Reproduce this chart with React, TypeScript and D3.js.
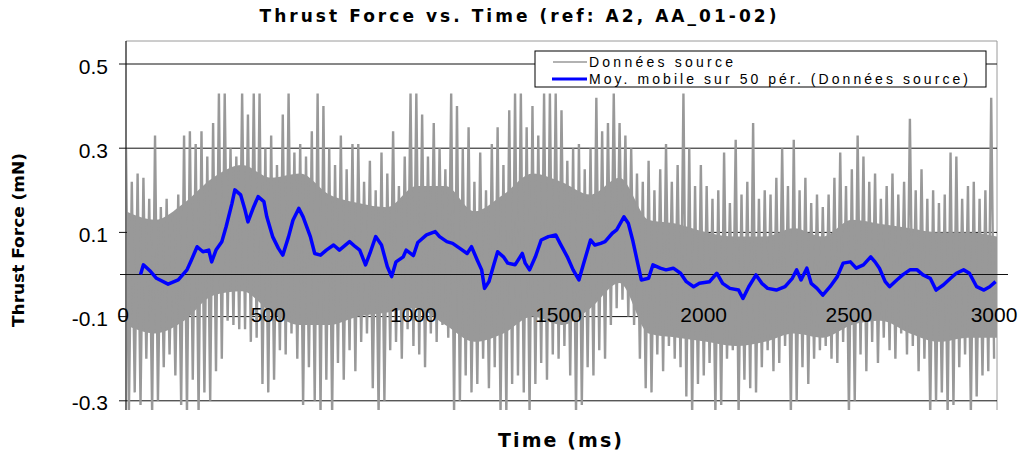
import React from 'react';
import * as d3 from 'd3';

const W = 1028;
const H = 452;

const yTicks = [0.5, 0.3, 0.1, -0.1, -0.3];
const yTickLabels = ['0.5', '0.3', '0.1', '-0.1', '-0.3'];
const xTicks = [0, 500, 1000, 1500, 2000, 2500, 3000];
const xTickLabels = ['0', '500', '1000', '1500', '2000', '2500', '3000'];

// raw source data: local maxima every 20 ms (t = 0, 20, ...) and minima in between (t = 10, 30, ...)
const rawHigh = [
  0.30, 0.22, 0.24, 0.23, 0.18, 0.33, 0.16, 0.18, 0.14, 0.19,
  0.33, 0.34, 0.31, 0.34, 0.28, 0.36, 0.43, 0.43, 0.30, 0.28,
  0.43, 0.38, 0.43, 0.43, 0.30, 0.33, 0.26, 0.38, 0.43, 0.29,
  0.31, 0.28, 0.34, 0.43, 0.40, 0.30, 0.26, 0.33, 0.25, 0.31,
  0.31, 0.22, 0.27, 0.20, 0.29, 0.24, 0.34, 0.21, 0.28, 0.43,
  0.43, 0.38, 0.28, 0.36, 0.30, 0.25, 0.43, 0.40, 0.30, 0.35,
  0.22, 0.29, 0.20, 0.31, 0.35, 0.26, 0.39, 0.43, 0.43, 0.35,
  0.40, 0.33, 0.43, 0.43, 0.43, 0.39, 0.27, 0.30, 0.31, 0.25,
  0.30, 0.42, 0.34, 0.36, 0.43, 0.36, 0.33, 0.30, 0.24, 0.22,
  0.27, 0.20, 0.25, 0.31, 0.22, 0.26, 0.43, 0.30, 0.21, 0.26,
  0.21, 0.18, 0.20, 0.29, 0.17, 0.32, 0.19, 0.22, 0.36, 0.18,
  0.20, 0.19, 0.23, 0.30, 0.21, 0.32, 0.20, 0.23, 0.17, 0.19,
  0.16, 0.19, 0.23, 0.29, 0.21, 0.25, 0.33, 0.28, 0.22, 0.24,
  0.18, 0.21, 0.24, 0.19, 0.22, 0.37, 0.20, 0.25, 0.18, 0.20,
  0.17, 0.19, 0.29, 0.28, 0.18, 0.21, 0.22, 0.18, 0.20, 0.42,
];
const rawLow = [
  -0.33, -0.28, -0.31, -0.20, -0.33, -0.30, -0.22, -0.19, -0.24, -0.31,
  -0.33, -0.25, -0.33, -0.28, -0.30, -0.23, -0.20, -0.11, -0.12, -0.13,
  -0.13, -0.16, -0.15, -0.26, -0.28, -0.25, -0.18, -0.19, -0.14, -0.20,
  -0.31, -0.22, -0.30, -0.33, -0.25, -0.33, -0.21, -0.25, -0.18, -0.23,
  -0.16, -0.14, -0.27, -0.33, -0.30, -0.18, -0.16, -0.20, -0.13, -0.17,
  -0.19, -0.22, -0.14, -0.16, -0.12, -0.15, -0.33, -0.30, -0.24, -0.28,
  -0.26, -0.20, -0.27, -0.22, -0.33, -0.33, -0.26, -0.24, -0.28, -0.33,
  -0.26, -0.21, -0.25, -0.19, -0.20, -0.17, -0.24, -0.33, -0.31, -0.22,
  -0.24, -0.18, -0.20, -0.12, -0.08, -0.06, -0.10, -0.12, -0.20, -0.27,
  -0.28, -0.19, -0.23, -0.17, -0.20, -0.22, -0.29, -0.33, -0.26, -0.24,
  -0.21, -0.33, -0.31, -0.20, -0.18, -0.33, -0.25, -0.27, -0.28, -0.22,
  -0.18, -0.23, -0.21, -0.17, -0.33, -0.30, -0.22, -0.26, -0.20, -0.18,
  -0.17, -0.20, -0.21, -0.16, -0.33, -0.30, -0.19, -0.23, -0.16, -0.21,
  -0.15, -0.18, -0.20, -0.14, -0.19, -0.17, -0.23, -0.20, -0.33, -0.30,
  -0.28, -0.33, -0.31, -0.22, -0.19, -0.33, -0.29, -0.24, -0.23, -0.20,
];

// dense band of the source signal, read every 100 ms (t = 0 ... 3000)
const coreHigh = [
  0.15, 0.13, 0.17, 0.23, 0.26, 0.23, 0.24, 0.19, 0.17, 0.16,
  0.21, 0.21, 0.15, 0.19, 0.24, 0.22, 0.19, 0.23, 0.13, 0.12,
  0.10, 0.09, 0.09, 0.11, 0.09, 0.13, 0.12, 0.11, 0.10, 0.10, 0.09,
];
const coreLow = [
  -0.12, -0.14, -0.11, -0.05, -0.04, -0.09, -0.12, -0.12, -0.10, -0.09,
  -0.08, -0.12, -0.16, -0.14, -0.10, -0.12, -0.08, -0.02, -0.14, -0.15,
  -0.16, -0.17, -0.16, -0.14, -0.15, -0.12, -0.11, -0.14, -0.16, -0.15, -0.15,
];

// 50-period moving average
const maTime = [
  50, 60, 85, 105, 145, 180, 210, 225, 245, 265, 285, 295, 310, 330, 345, 365, 375, 395, 410, 420,
  440, 455, 475, 485, 505, 525, 540, 560, 575, 595, 610, 635, 650, 670, 690, 715, 735, 770, 790, 805,
  825, 840, 860, 880, 900, 915, 930, 955, 965, 990, 1005, 1035, 1065, 1080, 1105, 1125, 1150, 1175, 1190, 1210,
  1225, 1235, 1250, 1265, 1280, 1300, 1315, 1340, 1365, 1375, 1390, 1410, 1430, 1455, 1480, 1495, 1520, 1540, 1560, 1575,
  1600, 1615, 1635, 1650, 1675, 1690, 1715, 1730, 1745, 1765, 1775, 1800, 1815, 1840, 1860, 1885, 1910, 1930, 1955, 1975,
  2010, 2035, 2055, 2080, 2110, 2125, 2145, 2170, 2190, 2210, 2240, 2270, 2295, 2310, 2325, 2345, 2360, 2380, 2400, 2425,
  2450, 2470, 2495, 2515, 2540, 2565, 2580, 2595, 2615, 2630, 2655, 2675, 2700, 2725, 2745, 2770, 2790, 2815, 2840, 2860,
  2885, 2905, 2930, 2955, 2975, 2995,
];
const maValue = [
  0.000, 0.023, 0.007, -0.009, -0.023, -0.013, 0.011, 0.034, 0.066, 0.054, 0.058, 0.030, 0.058, 0.078, 0.114, 0.169, 0.201, 0.189, 0.153, 0.125,
  0.161, 0.185, 0.173, 0.137, 0.090, 0.062, 0.046, 0.090, 0.129, 0.157, 0.137, 0.090, 0.050, 0.046, 0.058, 0.070, 0.058, 0.078, 0.066, 0.058,
  0.023, 0.050, 0.090, 0.070, 0.019, -0.005, 0.030, 0.042, 0.058, 0.045, 0.076, 0.094, 0.102, 0.090, 0.078, 0.074, 0.062, 0.050, 0.066, 0.034,
  0.011, -0.033, -0.017, 0.019, 0.054, 0.042, 0.027, 0.023, 0.050, 0.027, 0.011, 0.042, 0.082, 0.090, 0.094, 0.074, 0.042, 0.011, -0.013, 0.023,
  0.082, 0.070, 0.074, 0.078, 0.098, 0.106, 0.137, 0.122, 0.082, 0.019, -0.013, -0.009, 0.023, 0.015, 0.011, 0.015, 0.003, -0.017, -0.029, -0.021,
  -0.017, 0.003, -0.021, -0.033, -0.037, -0.057, -0.029, -0.001, -0.021, -0.033, -0.037, -0.029, -0.009, 0.011, -0.013, 0.015, -0.021, -0.033, -0.049, -0.029,
  -0.005, 0.027, 0.030, 0.015, 0.023, 0.042, 0.030, 0.015, -0.017, -0.029, -0.013, -0.001, 0.011, 0.011, -0.001, -0.009, -0.037, -0.025, -0.009, 0.003,
  0.011, 0.003, -0.029, -0.037, -0.029, -0.017,
];

const seriesNames = ['Données source', 'Moy. mobile sur 50 pér. (Données source)'];
const title = 'Thrust Force vs. Time (ref: A2, AA_01-02)';
const yTitle = 'Thrust Force (mN)';
const xTitle = 'Time (ms)';

type Band = { t: number; h: number; l: number };

export default function App() {
  const left = 126, right = 997, top = 41, bottom = 410;
  const x = d3.scaleLinear().domain([0, 3000]).range([left, right]);
  const y = d3.scaleLinear().domain([-0.3, 0.5]).range([400.8, 64]);

  const raw: [number, number][] = [];
  rawHigh.forEach((v, i) => {
    raw.push([i * 20, v]);
    raw.push([i * 20 + 10, rawLow[i]]);
  });
  const core: Band[] = coreHigh.map((h, i) => ({ t: i * 100, h, l: coreLow[i] }));
  const ma: [number, number][] = maTime.map((t, i) => [t, maValue[i]]);
  const line = d3.line<[number, number]>().x(d => x(d[0])).y(d => y(d[1]));
  const bandArea = d3.area<Band>()
    .x(d => x(d.t)).y0(d => y(d.l)).y1(d => y(d.h)).curve(d3.curveMonotoneX);

  const tickFont = "'Liberation Sans', Arial, sans-serif";
  const boldFont = "'DejaVu Sans', Verdana, sans-serif";

  return (
    <svg width={W} height={H} style={{ position: 'absolute', left: 0, top: 0, background: '#fff' }}>
      <defs>
        <clipPath id="plotClip">
          <rect x={left + 1} y={top} width={right - left - 1} height={bottom - top} />
        </clipPath>
      </defs>
      <rect x={0} y={0} width={W} height={H} fill="#fff" />
      {/* plot border top & right */}
      <line x1={left} x2={right} y1={top} y2={top} stroke="#9a9a9a" strokeWidth={1} />
      <line x1={right} x2={right} y1={top} y2={bottom} stroke="#9a9a9a" strokeWidth={1} />
      {/* gridlines */}
      {yTicks.map(t => (
        <line key={t} x1={left - 7} x2={right} y1={y(t)} y2={y(t)} stroke="#111" strokeWidth={1} />
      ))}
      {/* y axis */}
      <line x1={left} x2={left} y1={top} y2={bottom} stroke="#111" strokeWidth={1.2} />
      {/* raw data */}
      <g clipPath="url(#plotClip)">
        <path d={bandArea(core) || ''} fill="#999999" stroke="none" />
        <path d={line(raw) || ''} fill="none" stroke="#999999" strokeWidth={2.4} strokeLinejoin="miter" strokeMiterlimit={1} />
      </g>
      {/* x axis (zero line) */}
      <line x1={left - 6} x2={1008} y1={y(0)} y2={y(0)} stroke="#111" strokeWidth={1.2} />
      {/* moving average */}
      <path d={line(ma) || ''} fill="none" stroke="#0000ff" strokeWidth={3.5} strokeLinejoin="round" />

      {/* y tick labels */}
      {yTicks.map((t, i) => (
        <text key={t} x={108} y={y(t) + 9.5} textAnchor="end" fontFamily={tickFont} fontSize={21} fill="#000">
          {yTickLabels[i]}
        </text>
      ))}
      {/* x tick labels */}
      {xTicks.map((t, i) => (
        <text key={t} x={x(t) - 3} y={322} textAnchor="middle" fontFamily={tickFont} fontSize={21} fill="#000">
          {xTickLabels[i]}
        </text>
      ))}

      {/* legend */}
      <rect x={535} y={51} width={451} height={36} fill="#fff" stroke="#000" strokeWidth={1} />
      <line x1={553} x2={587} y1={62} y2={62} stroke="#999999" strokeWidth={1.5} />
      <line x1={552} x2={587} y1={79} y2={79} stroke="#0000ff" strokeWidth={3} />
      <text x={589} y={67} fontFamily={tickFont} fontSize={14} textLength={144} lengthAdjust="spacing" fill="#000">
        {seriesNames[0]}
      </text>
      <text x={589} y={84} fontFamily={tickFont} fontSize={14} textLength={379} lengthAdjust="spacing" fill="#000">
        {seriesNames[1]}
      </text>

      {/* titles */}
      <text x={518} y={22} textAnchor="middle" fontFamily={boldFont} fontWeight="bold" fontSize={17} textLength={517} lengthAdjust="spacing" fill="#000">
        {title}
      </text>
      <text transform="translate(24,240) rotate(-90)" textAnchor="middle" fontFamily={boldFont} fontWeight="bold" fontSize={15} textLength={174} lengthAdjust="spacingAndGlyphs" fill="#000">
        {yTitle}
      </text>
      <text x={560} y={447} textAnchor="middle" fontFamily={boldFont} fontWeight="bold" fontSize={19} textLength={124} lengthAdjust="spacing" fill="#000">
        {xTitle}
      </text>
    </svg>
  );
}
